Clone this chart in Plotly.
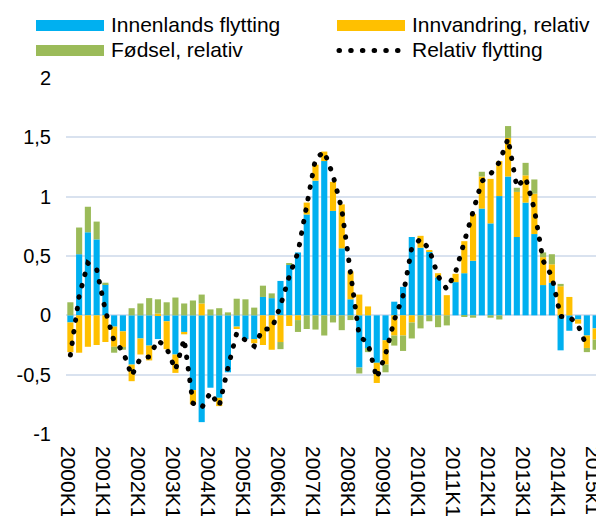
import plotly.graph_objects as go

# ---- data ----
quarters = [f"{y}K{q}" for y in range(2000, 2015) for q in range(1, 5)] + ["2015K1"]

innenlands = [-0.06, 0.515, 0.70, 0.64, 0.26, -0.095, -0.135, -0.415, -0.195, -0.255,
              -0.20, -0.05, -0.33, -0.14, -0.63, -0.90, -0.61, -0.695, -0.48, -0.095,
              -0.20, -0.20, 0.155, 0.145, 0.29, 0.425, 0.53, 0.85, 1.135, 1.30,
              0.88, 0.565, 0.135, -0.44, -0.275, -0.40, -0.21, 0.115, 0.24, 0.66,
              0.57, 0.54, 0.32, 0.0, 0.28, 0.355, 0.46, 0.90, 0.775, 1.005,
              1.17, 0.66, 0.95, 0.685, 0.255, 0.275, -0.295, -0.13, -0.035, -0.17,
              -0.11]

innvandring = [-0.25, -0.315, -0.265, -0.25, -0.225, -0.17, -0.14, -0.14, -0.135, -0.125,
               0.015, -0.235, -0.155, -0.02, -0.12, 0.10, 0.0, -0.07, 0.0, -0.02,
               0.0, -0.035, -0.25, -0.29, -0.225, -0.09, -0.04, 0.10, 0.135, 0.08,
               0.245, 0.37, 0.235, 0.175, 0.075, -0.17, -0.205, -0.17, -0.17, -0.06,
               0.10, 0.01, 0.035, 0.17, 0.07, 0.27, 0.395, 0.27, 0.375, 0.295,
               0.325, 0.38, 0.23, 0.34, 0.235, 0.155, 0.245, 0.155, -0.035, -0.105,
               -0.095]

fodsel = [0.11, 0.225, 0.215, 0.15, 0.015, -0.05, -0.015, 0.06, 0.10, 0.145,
          0.12, 0.11, 0.15, 0.10, 0.125, 0.075, 0.05, 0.06, 0.025, 0.14,
          0.135, 0.065, 0.095, 0.04, -0.06, 0.015, -0.10, -0.115, -0.12, -0.17,
          -0.06, -0.125, -0.04, -0.05, -0.035, 0.0, -0.065, -0.085, -0.13, -0.135,
          -0.11, -0.05, -0.10, -0.085, 0.0, -0.01, -0.02, 0.04, -0.02, -0.035,
          0.10, 0.035, 0.105, 0.12, 0.04, 0.085, 0.02, 0.0, 0.0, -0.035,
          -0.085]

relativ = [-0.335, 0.16, 0.44, 0.39, 0.04, -0.22, -0.30, -0.51, -0.36, -0.35,
           -0.21, -0.275, -0.46, -0.20, -0.74, -0.78, -0.65, -0.765, -0.44, -0.15,
           -0.21, -0.26, -0.115, -0.115, 0.08, 0.33, 0.53, 0.94, 1.32, 1.38,
           1.18, 0.895, 0.33, -0.175, -0.235, -0.53, -0.33, -0.04, 0.165, 0.57,
           0.645, 0.555, 0.33, 0.22, 0.365, 0.62, 0.895, 1.13, 1.19, 1.29,
           1.49, 1.08, 1.16, 0.895, 0.46, 0.33, -0.01, -0.01, -0.085, -0.265,
           None]

tick_vals = quarters[::4]
tick_text = ["2000K1", "2001K1", "2002K1", "2003K1", "2004K1", "2005K1", "2006K1",
             "2007K1", "2008K1", "2009K1", "2010K1", "2011K1", "2012K1", "2013K1",
             "2014K1", "2015k1"]
y_vals = [-1, -0.5, 0, 0.5, 1, 1.5, 2]
y_text = ["-1", "-0,5", "0", "0,5", "1", "1,5", "2"]

series_names = ["Innenlands flytting", "Innvandring, relativ", "Fødsel, relativ", "Relativ flytting"]
BLUE, YELLOW, GREEN, BLACK = "#00B0F0", "#FFC000", "#9BBB59", "#000000"
FONT = "Liberation Sans, Arial, sans-serif"

fig = go.Figure()
fig.add_trace(go.Bar(x=quarters, y=innenlands, name=series_names[0], marker_color=BLUE, marker_line_width=0))
fig.add_trace(go.Bar(x=quarters, y=innvandring, name=series_names[1], marker_color=YELLOW, marker_line_width=0))
fig.add_trace(go.Bar(x=quarters, y=fodsel, name=series_names[2], marker_color=GREEN, marker_line_width=0))
fig.add_trace(go.Scatter(x=quarters, y=relativ, name=series_names[3], mode="lines",
                         line=dict(color=BLACK, width=5, dash="0.5px,11.2px")))

# page has an 8px body margin; figure coordinates = page coordinates - 8
OFF = 8
FW, FH = 604 - OFF, 516 - OFF
L, T, W, H = 66 - OFF, 78 - OFF, 534, 356

def px(x):
    return (x - OFF - L) / W
def py(y):
    return (T + H - (y - OFF)) / H

shapes = []
annos = []
legend_items = [
    (series_names[0], BLUE, 36, 25.5, "bar"),
    (series_names[1], YELLOW, 337, 25.5, "bar"),
    (series_names[2], GREEN, 36, 50.5, "bar"),
    (series_names[3], BLACK, 337, 50.5, "dots"),
]
for name, col, x0, yc, kind in legend_items:
    if kind == "bar":
        shapes.append(dict(type="rect", xref="paper", yref="paper",
                           x0=px(x0), x1=px(x0 + 68), y0=py(yc + 5.5), y1=py(yc - 5.5),
                           fillcolor=col, line=dict(width=0)))
    else:
        shapes.append(dict(type="line", xref="paper", yref="paper",
                           x0=px(x0 + 2), x1=px(x0 + 62), y0=py(yc), y1=py(yc),
                           line=dict(color=col, width=5, dash="0.5px,11.2px")))
    annos.append(dict(text=name, xref="paper", yref="paper", x=px(x0 + 73), y=py(yc - 1),
                      xanchor="left", yanchor="middle", showarrow=False,
                      font=dict(family=FONT, size=21, color="#000000")))

fig.update_layout(
    width=FW, height=FH,
    margin=dict(l=L, r=FW - L - W, t=T, b=FH - T - H),
    barmode="relative", bargap=0.3,
    plot_bgcolor="white", paper_bgcolor="white",
    showlegend=False,
    shapes=shapes, annotations=annos,
    font=dict(family=FONT, size=20, color="#000000"),
    xaxis=dict(type="category", range=[-0.5, 60.5], tickmode="array",
               tickvals=tick_vals, ticktext=tick_text, tickangle=90,
               tickfont=dict(size=21, color="#000000"), showgrid=False,
               showline=False, ticks="", ticklabelstandoff=11, ticklabelshift=-3,
               automargin=False),
    yaxis=dict(range=[-1, 2], tickmode="array", tickvals=y_vals, ticktext=y_text,
               tickfont=dict(size=20, color="#000000"), showgrid=True,
               gridcolor="#D9E2EF", gridwidth=2, zeroline=False, showline=False,
               ticks="", ticklabelstandoff=14, automargin=False),
)

post = ("document.querySelectorAll('path').forEach(function(p){"
        "var d=p.style.strokeDasharray; if(d && d!=='none'){p.style.strokeLinecap='round';}});")
fig.write_html("out.html", post_script=post)
